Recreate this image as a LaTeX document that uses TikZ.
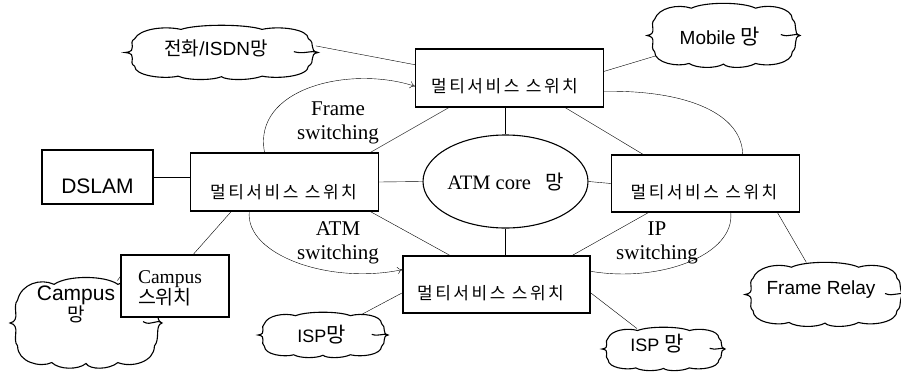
\documentclass[tikz,border=0pt]{standalone}
\usepackage{fontspec}
\setmainfont{Liberation Serif}
\setsansfont{Liberation Sans}
\newfontfamily\krfont{Noto Sans CJK KR}
\newfontfamily\krwide[LetterSpace=15]{Noto Sans CJK KR}
\usetikzlibrary{shapes.geometric,arrows.meta,backgrounds}

\newcommand\fs[2]{\fontsize{#1}{#2}\selectfont}
\newcommand\kr[1]{{\krfont #1}}

\tikzset{
  swbox/.style={draw, fill=white, inner sep=0pt, minimum width=188pt, minimum height=58pt},
  plainbox/.style={draw, fill=white, inner sep=0pt},
  swtext/.style={inner sep=0pt, font=\krwide\fs{17}{20}},
  sanstext/.style={inner sep=0pt, font=\sffamily\fs{19}{23}},
  modelabel/.style={inner sep=0pt, align=center, font=\rmfamily\fs{21}{24}},
  cloudanchor/.style={ellipse, inner sep=0pt},
  cloudline/.style={draw, fill=white},
  flowarrow/.style={-{To[length=5pt,width=7pt]}},
  cloudshape/.pic={
    \path[cloudline] (-1,0)
      .. controls (-0.85,-0.05) and (-0.98,-0.35) .. (-0.90,-0.50)
      .. controls (-0.85,-0.85) and (-0.60,-0.98) .. (-0.42,-0.84)
      .. controls (-0.25,-1.04) and (0.25,-1.04) .. (0.42,-0.84)
      .. controls (0.60,-0.98) and (0.90,-0.85) .. (0.90,-0.50)
      .. controls (0.98,-0.35) and (0.90,-0.05) .. (1,0)
      .. controls (0.90,0.05) and (0.98,0.35) .. (0.90,0.50)
      .. controls (0.90,0.85) and (0.60,0.98) .. (0.42,0.86)
      .. controls (0.30,1.02) and (0.05,1.02) .. (0,0.88)
      .. controls (-0.10,1.02) and (-0.35,1.02) .. (-0.45,0.86)
      .. controls (-0.60,0.98) and (-0.90,0.85) .. (-0.90,0.50)
      .. controls (-0.98,0.35) and (-0.85,0.05) .. (-1,0) -- cycle;
    \draw (1,0) .. controls (0.93,-0.10) and (0.86,0.08) .. (0.75,-0.03);
  }
}

% cloud: name, centre x, centre y, width, height
\newcommand\netcloud[5]{%
  \node[cloudanchor, minimum width=#4pt, minimum height=#5pt] (#1) at (#2,#3) {};
  \pic[xscale=#4/2, yscale=#5/2] at (#1) {cloudshape};
}

\begin{document}
\begin{tikzpicture}[x=1pt, y=-1pt, line width=1.1pt]
\useasboundingbox (0,0) rectangle (901,372);

% outer networks
\netcloud{isdn}{221.5}{52.5}{193}{55}
\netcloud{mobile}{723.5}{35.5}{153}{65}
\netcloud{campus}{86}{323}{152}{92}
\netcloud{ispa}{323}{335}{130}{46}
\netcloud{ispb}{663.5}{349}{123}{44}
\netcloud{frelay}{825}{294.5}{160}{65}

\node[sanstext] (isdn-t) at (216,48.5) {\kr{전화}/ISDN\kr{망}};
\node[sanstext] (mobile-t) at (720,37) {Mobile \kr{\fs{21}{23}망}};
\node[sanstext, align=center, font=\sffamily\fs{21}{21}] (campus-t) at (76,304.5) {Campus\\\kr{\fs{19}{19}망}};
\node[sanstext, font=\sffamily\fs{18}{22}] (ispa-t) at (321.5,334.5) {ISP\kr{\fs{21}{22}망}};
\node[sanstext, font=\sffamily\fs{18}{22}] (ispb-t) at (657,343.5) {ISP \kr{\fs{21}{22}망}};
\node[sanstext] (frelay-t) at (821,290) {Frame Relay};

% switches
\node[swbox] (top) at (509.5,78) {};
\node[swbox] (left) at (284.5,182) {};
\node[swbox, minimum height=57pt] (right) at (705.5,183.5) {};
\node[swbox, minimum width=187pt, minimum height=57pt] (bot) at (496.5,284.5) {};
\node[plainbox, minimum width=111pt, minimum height=54pt] (dslam) at (97.5,177) {};
\node[plainbox, minimum width=108pt, minimum height=62pt] (campsw) at (175,286) {};
\node[ellipse, draw, fill=white, inner sep=0pt, minimum width=165pt, minimum height=93pt,
      font=\rmfamily\fs{20.5}{24}] (core) at (505.5,181.5) {ATM core\hspace{0.7em}\kr{\fs{20}{22}망}};

\node[swtext] (top-t) at (504.5,86.5) {멀티서비스 스위치};
\node[swtext] (left-t) at (283.5,192) {멀티서비스 스위치};
\node[swtext] (right-t) at (704,192) {멀티서비스 스위치};
\node[swtext] (bot-t) at (490.5,293.5) {멀티서비스 스위치};
\node[sanstext, font=\sffamily\fs{21}{24}] (dslam-t) at (97.5,186) {DSLAM};
\node[inner sep=0pt, align=left, font=\rmfamily\fs{19.5}{21}] (campsw-t) at (170,288)
  {Campus\\\kr{\fs{19.5}{21}스위치}};

% switching modes
\node[modelabel] (frame-l) at (338,123) {Frame\\switching};
\node[modelabel] (atm-l) at (338,243) {ATM\\switching};
\node[modelabel] (ip-l) at (657,243) {IP\\switching};

\begin{pgfonlayer}{background}
  \draw (isdn.4) -- (top.172);
  \draw (top.4) -- (mobile);
  \draw (core.north) -- (core.north |- top.south);
  \draw (left.19) -- (top.206);
  \draw (top.332) -- (right.155);
  \draw (top.352) .. controls (690,90) and (742,115) .. (right.38);
  \draw[flowarrow] (left.124) .. controls (252,88) and (350,65) .. (top.185);
  \draw[flowarrow] (left.220) .. controls (245,255) and (330,285) .. (bot.171);
  \draw (right.311) .. controls (735,255) and (660,283) .. (bot.8);
  \draw (left.east) -- (core.west);
  \draw (core.east) -- (right.west);
  \draw (core.south) -- (core.south |- bot.north);
  \draw (dslam.east) -- (dslam.east -| left.west);
  \draw (left.209) -- (campsw.60);
  \draw (left.341) -- (bot.148);
  \draw (right.207) -- (bot.21);
  \draw (right.338) -- (frelay);
  \draw (bot.185) -- (ispa);
  \draw (bot.355) -- (ispb);
  \draw (campsw.170) -- (campus);
\end{pgfonlayer}
\end{tikzpicture}
\end{document}
